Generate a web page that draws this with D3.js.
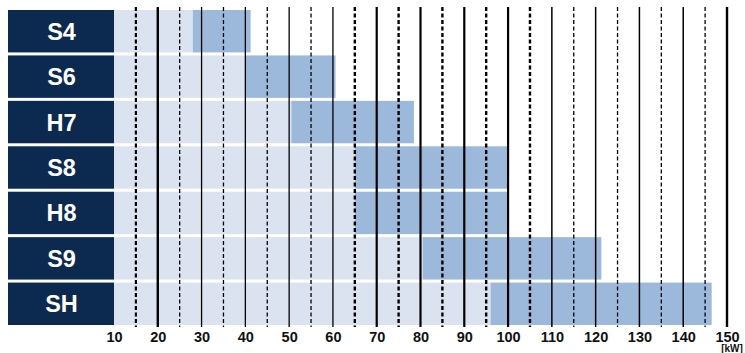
<!DOCTYPE html>
<html><head><meta charset="utf-8">
<script src="https://cdn.jsdelivr.net/npm/d3@7"></script>
<style>body{margin:0;background:#fff}svg{display:block}</style>
</head><body>
<svg id="chart" width="745" height="353"></svg>
<script>
const categories = ["S4","S6","H7","S8","H8","S9","SH"];
const rangeStart = [28, 40, 50.5, 65, 65, 80.5, 96];
const rangeEnd   = [41.2, 60.6, 78.5, 100, 100, 121.3, 146.5];
const tickValues = [10,20,30,40,50,60,70,80,90,100,110,120,130,140,150];
const dashedValues = [15,25,35,45,55,65,75,85,95,105,115,125,135,145];
const unitLabel = "[kW]";

const svg = d3.select("#chart");
const x = d3.scaleLinear().domain([10,150]).range([114,727]);
const y = d3.scaleBand().domain(categories).range([10,325]).paddingInner(0.066).paddingOuter(0);

const rows = svg.append("g").selectAll("g").data(categories).join("g");
rows.append("rect").attr("x",8).attr("y",d=>y(d)).attr("width",x(10)-8).attr("height",y.bandwidth()).attr("fill","#0c2a50");
rows.append("text").attr("x",61.5).attr("y",d=>y(d)+y.bandwidth()/2+8.5)
  .attr("text-anchor","middle").attr("fill","#fff")
  .attr("font-family","Liberation Sans, Arial, sans-serif").attr("font-weight","bold").attr("font-size",23.5)
  .text(d=>d);
rows.append("rect").attr("x",x(10)).attr("y",d=>y(d))
  .attr("width",(d,i)=>x(rangeStart[i])-x(10)).attr("height",y.bandwidth()).attr("fill","#dce3f0");
rows.append("rect").attr("x",(d,i)=>x(rangeStart[i])).attr("y",d=>y(d))
  .attr("width",(d,i)=>x(rangeEnd[i])-x(rangeStart[i])).attr("height",y.bandwidth()).attr("fill","#9cb9dc");

function solidW(v){ if(v===20||v===150) return 2.4; if(v>=70&&v<=100) return 2.2; if(v>=110) return 1.5; return 1.3; }
function dashW(v){ if(v===15) return 2.2; if(v>=65&&v<=105) return 2.4; return 1.3; }
const grid = svg.append("g");
grid.selectAll("line.s").data(tickValues.filter(v=>v>10)).join("line").attr("class","s")
  .attr("x1",d=>x(d)).attr("x2",d=>x(d)).attr("y1",7).attr("y2",327)
  .attr("stroke","#000").attr("stroke-width",solidW);
grid.selectAll("line.d").data(dashedValues).join("line").attr("class","d")
  .attr("x1",d=>x(d)).attr("x2",d=>x(d)).attr("y1",7).attr("y2",327)
  .attr("stroke","#000").attr("stroke-width",dashW).attr("stroke-dasharray","4,2.5");

const axis = d3.axisBottom(x).tickValues(tickValues).tickSize(0).tickPadding(0).tickFormat(d3.format("d"));
const ax = svg.append("g").attr("transform","translate(0,328)").call(axis);
ax.select(".domain").remove();
ax.selectAll("text").attr("dy",0).attr("y",13.5)
  .attr("font-family","Liberation Sans, Arial, sans-serif").attr("font-weight","bold").attr("font-size",14.5).attr("fill","#111");
svg.append("text").attr("x",x(150)+5).attr("y",352).attr("text-anchor","middle")
  .attr("font-family","Liberation Sans, Arial, sans-serif").attr("font-weight","bold").attr("font-size",10).attr("fill","#111")
  .text(unitLabel);
</script>
</body></html>
